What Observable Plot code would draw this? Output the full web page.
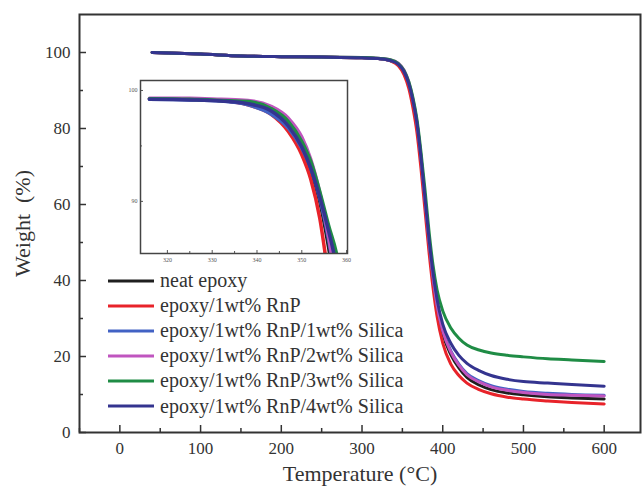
<!DOCTYPE html>
<html><head><meta charset="utf-8">
<script src="https://cdn.jsdelivr.net/npm/d3@7"></script>
<script src="https://cdn.jsdelivr.net/npm/@observablehq/plot@0.6"></script>
<style>
body{margin:0;background:#fff;}
#wrap{position:relative;width:643px;height:486px;font-family:"Liberation Serif",serif;}
#wrap svg, #wrap svg text{font-family:"Liberation Serif",serif;}
#inset{position:absolute;left:126px;top:79px;}
#legend{position:absolute;left:108px;top:268px;}
.row{height:25.1px;display:flex;align-items:center;font-size:20px;color:#333;white-space:nowrap;}
.row svg{margin-right:6px;}
</style></head>
<body><div id="wrap"><div id="main"></div><div id="inset"></div><div id="legend"></div></div>
<script>
const seriesNames = ["neat epoxy","epoxy/1wt% RnP","epoxy/1wt% RnP/1wt% Silica","epoxy/1wt% RnP/2wt% Silica","epoxy/1wt% RnP/3wt% Silica","epoxy/1wt% RnP/4wt% Silica"];
const seriesColors = ["#1f1f1f","#e8232a","#4262c4","#c055bf","#1f8c45","#34348f"];

const temps = [40,100,150,200,250,300,320,335,345,352,358,363,368,373,378,383,388,393,400,410,420,430,445,460,480,500,530,560,600];
const wNeat = [100.0,99.6,99.1,98.9,98.8,98.6,98.4,97.9,96.8,94.8,91.5,87.0,81.0,72.0,61.0,50.0,40.5,33.0,26.0,20.5,17.0,14.5,12.5,11.3,10.4,9.9,9.4,9.1,8.8];
const wRnP = [100.0,99.6,99.1,98.9,98.8,98.6,98.4,97.8,96.5,94.2,90.5,85.5,79.0,69.5,58.5,47.5,38.0,30.5,23.5,18.0,15.0,13.0,11.3,10.2,9.3,8.8,8.3,7.9,7.5];
const wSi1 = [100.0,99.6,99.1,98.9,98.8,98.6,98.4,97.9,96.9,95.0,91.8,87.5,81.5,72.5,61.5,50.5,41.0,33.5,27.0,21.5,18.0,15.5,13.6,12.3,11.4,10.8,10.3,10.0,9.8];
const wSi2 = [100.0,99.6,99.1,98.9,98.8,98.7,98.5,98.1,97.2,95.4,92.2,87.8,81.8,72.8,61.8,50.8,41.2,33.6,26.8,21.2,17.7,15.2,13.3,12.0,11.1,10.5,10.0,9.8,9.6];
const wSi3 = [100.0,99.6,99.1,98.9,98.8,98.7,98.5,98.1,97.1,95.3,92.3,88.2,82.5,74.0,64.0,53.0,44.0,37.5,32.0,27.5,24.8,23.0,21.7,20.9,20.3,19.9,19.4,19.1,18.7];
const wSi4 = [100.0,99.6,99.1,98.9,98.8,98.6,98.4,97.9,96.9,95.0,91.8,87.5,81.5,72.5,61.8,51.0,42.0,35.0,28.5,23.5,20.3,18.2,16.3,15.0,14.0,13.4,13.0,12.6,12.2];

const insetTemps = [316,325,332,338,343,347,350,352,354,356,358,360];
const iNeat = [99.25,99.2,99.1,98.75,98.0,96.6,94.6,92.8,90.0,85.8,80.5,75];
const iRnP  = [99.25,99.2,99.1,98.7,97.9,96.3,94.2,92.0,88.5,83.0,77,70];
const iSi1  = [99.2,99.15,99.05,98.7,97.9,96.6,94.8,93.0,90.3,86.5,81.5,76];
const iSi2  = [99.3,99.3,99.2,99.1,98.6,97.5,95.8,93.8,90.8,86.8,81.5,76];
const iSi3  = [99.25,99.2,99.1,99.0,98.4,97.2,95.4,93.6,90.9,87.8,84.8,79];
const iSi4  = [99.2,99.15,99.05,98.8,98.2,96.8,94.9,93.0,90.4,87.3,83.5,77];

const xTicks = [0,100,200,300,400,500,600];
const xMinor = [-50,50,150,250,350,450,550];
const yTicks = [0,20,40,60,80,100];
const yMinor = [10,30,50,70,90];
const insetXTicks = [320,330,340,350,360];
const insetXMinor = [325,335,345,355];
const insetYTicks = [90,100];
const insetYMinor = [95];

const mainSeries = [wNeat,wRnP,wSi1,wSi2,wSi3,wSi4];
const insetSeries = [iNeat,iRnP,iSi1,iSi2,iSi3,iSi4];
const mainData = mainSeries.flatMap((arr,i)=>arr.map((w,j)=>({t:temps[j],w,s:seriesNames[i]})));
const insetData = insetSeries.flatMap((arr,i)=>arr.map((w,j)=>({t:insetTemps[j],w,s:seriesNames[i]})));

const main = Plot.plot({
  width:643,height:486,
  marginLeft:79,marginRight:3,marginTop:14,marginBottom:54,
  style:{fontFamily:"Liberation Serif",background:"transparent",color:"#333"},
  x:{domain:[-50,645]},
  y:{domain:[0,110]},
  color:{domain:seriesNames,range:seriesColors},
  marks:[
    Plot.axisX({ticks:xTicks,tickSize:-7,tickPadding:16,fontSize:17,label:"Temperature (°C)",labelAnchor:"center",labelOffset:48,labelArrow:"none",strokeWidth:1.5}),
    Plot.axisX({ticks:xMinor,tickSize:-4,tickFormat:()=>"",label:null,strokeWidth:1.5}),
    Plot.axisY({ticks:yTicks,tickSize:-7,tickPadding:16,fontSize:17,label:"Weight  (%)",labelAnchor:"center",labelOffset:65,labelArrow:"none",strokeWidth:1.5}),
    Plot.axisY({ticks:yMinor,tickSize:-4,tickFormat:()=>"",label:null,strokeWidth:1.5}),
    Plot.line(mainData,{x:"t",y:"w",z:"s",stroke:"s",strokeWidth:3,curve:"monotone-x"}),
    Plot.frame({stroke:"#333",strokeWidth:2})
  ]
});
main.querySelectorAll("g[aria-label='x-axis label'] text, g[aria-label='y-axis label'] text").forEach(t=>{t.setAttribute("font-size","22");});
document.getElementById("main").appendChild(main);

const inset = Plot.plot({
  width:230,height:186,
  marginLeft:14,marginRight:9,marginTop:1,marginBottom:12,
  style:{fontFamily:"Liberation Serif",background:"transparent",color:"#555"},
  x:{domain:[314,360.2]},
  y:{domain:[85.3,100.9]},
  color:{domain:seriesNames,range:seriesColors},
  marks:[
    Plot.axisX({ticks:insetXTicks,tickSize:-3,tickPadding:7,fontSize:6,label:null}),
    Plot.axisX({ticks:insetXMinor,tickSize:-2,tickFormat:()=>"",label:null}),
    Plot.axisY({ticks:insetYTicks,tickSize:-3,tickPadding:6,fontSize:6,label:null}),
    Plot.axisY({ticks:insetYMinor,tickSize:-2,tickFormat:()=>"",label:null}),
    Plot.line(insetData,{x:"t",y:"w",z:"s",stroke:"s",strokeWidth:3.5,curve:"monotone-x",clip:true}),
    Plot.frame({stroke:"#444",strokeWidth:1.5})
  ]
});
document.getElementById("inset").appendChild(inset);

const leg = document.getElementById("legend");
seriesNames.forEach((n,i)=>{
  const r=document.createElement("div");r.className="row";
  r.innerHTML=`<svg width="46" height="6"><line x1="0" x2="46" y1="3" y2="3" stroke="${seriesColors[i]}" stroke-width="3"/></svg><span>${n}</span>`;
  leg.appendChild(r);
});
</script></body></html>
